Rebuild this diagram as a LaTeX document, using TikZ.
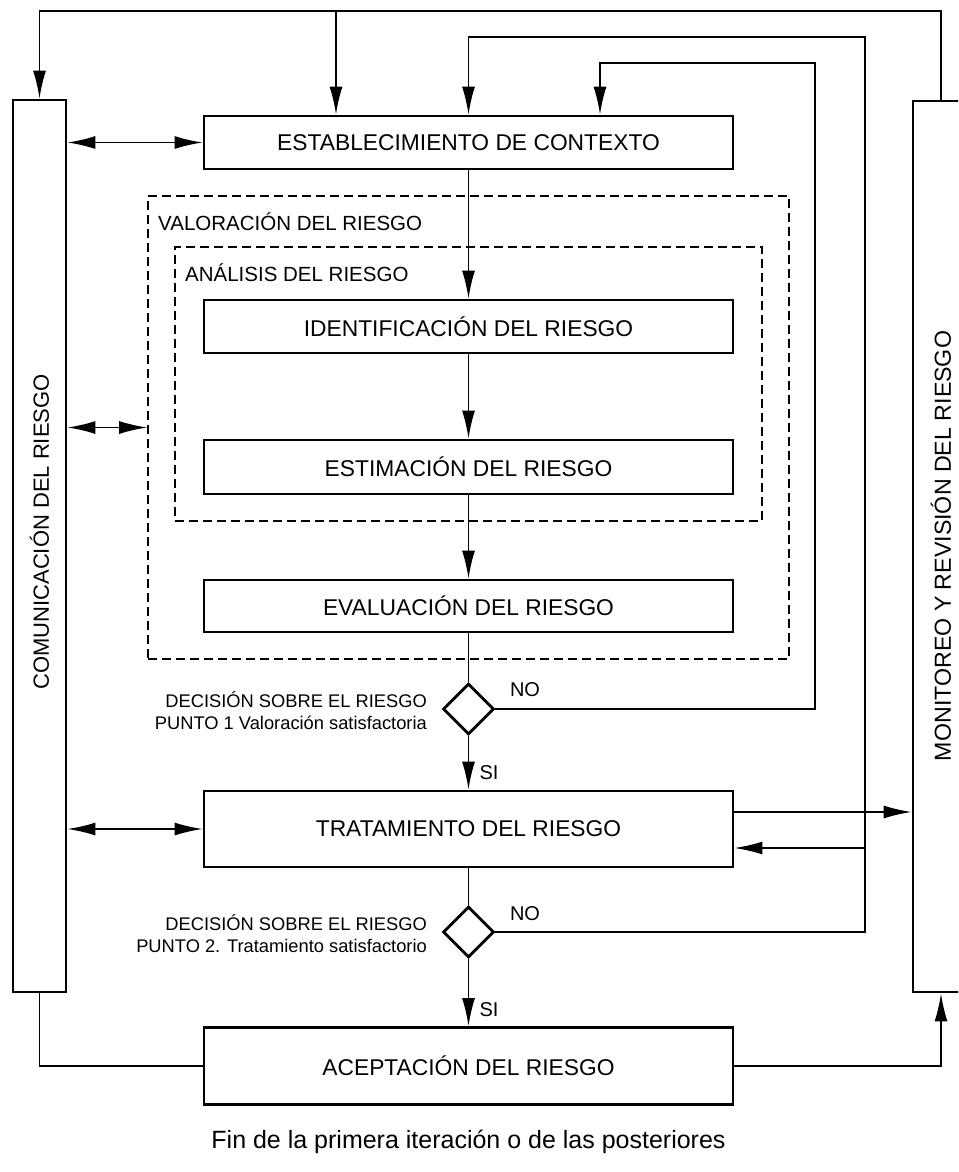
\documentclass[tikz,border=0pt]{standalone}
\usepackage{fontspec}
\setmainfont{Liberation Sans}
\usetikzlibrary{arrows.meta,shapes.geometric}
\begin{document}
\begin{tikzpicture}[x=1pt,y=-1pt,
  box/.style={draw, line width=2.8pt, minimum width=529pt, inner sep=0pt, font=\fontsize{22.8}{27}\selectfont},
  conn/.style={line width=1.8pt},
  arr/.style={conn, -{Latex[length=28pt,width=13pt]}},
  darr/.style={conn, {Latex[length=28pt,width=13pt]}-{Latex[length=28pt,width=13pt]}},
  dbox/.style={draw, line width=1.6pt, dash pattern=on 9pt off 5pt, inner sep=0pt},
  lab/.style={font=\fontsize{20.5}{24}\selectfont, inner sep=0pt},
  dec/.style={draw, diamond, aspect=1, line width=2.8pt, minimum width=51pt, minimum height=51pt, inner sep=0pt},
  side/.style={draw, line width=2.8pt, inner sep=0pt},
  sidetext/.style={rotate=90, font=\fontsize{22}{26}\selectfont, inner sep=0pt},
  dectext/.style={font=\fontsize{18.3}{22}\selectfont, align=right, anchor=east, inner sep=0pt},
  yn/.style={font=\fontsize{20}{24}\selectfont, inner sep=0pt},
]
\useasboundingbox (0,0) rectangle (958,1172);
\clip (0,0) rectangle (958,1172);

% side boxes
\node[side, minimum width=53pt, minimum height=892pt] (com) at (39.5,546) {};
\node[sidetext] (comt) at (39.5,532) {COMUNICACIÓN DEL RIESGO};
\node[side, minimum width=56pt, minimum height=891pt] (mon) at (941,546.5) {};
\node[sidetext, font=\fontsize{23.2}{28}\selectfont] (mont) at (941,546) {MONITOREO Y REVISIÓN DEL RIESGO};

% dashed groups
\node[dbox, minimum width=641pt, minimum height=463pt] (val) at (468.5,427.5) {};
\node[lab, anchor=west] (valt) at (158,222) {VALORACIÓN DEL RIESGO};
\node[dbox, minimum width=587pt, minimum height=274pt] (ana) at (468.5,384) {};
\node[lab, anchor=west] (anat) at (185,273) {ANÁLISIS DEL RIESGO};

% main boxes
\node[box, minimum height=53pt] (est) at (468.5,142.5) {ESTABLECIMIENTO DE CONTEXTO};
\node[box, minimum height=53pt] (ide) at (468.5,326.5) {IDENTIFICACIÓN DEL RIESGO};
\node[box, minimum height=54pt] (esm) at (468.5,467) {ESTIMACIÓN DEL RIESGO};
\node[box, minimum height=52pt] (eva) at (468.5,606) {EVALUACIÓN DEL RIESGO};
\node[box, minimum height=76pt] (tra) at (468.5,829) {TRATAMIENTO DEL RIESGO};
\node[box, minimum height=77pt] (ace) at (468.5,1066) {ACEPTACIÓN DEL RIESGO};

% decisions
\node[dec] (d1) at (468.5,709) {};
\node[dec] (d2) at (468.5,932) {};
\node[dectext] (d1t) at (427,711) {DECISIÓN SOBRE EL RIESGO\\PUNTO 1 Valoración satisfactoria};
\node[dectext] (d2t) at (427,934) {DECISIÓN SOBRE EL RIESGO\\PUNTO 2. Tratamiento satisfactorio};
\node[yn] (no1) at (525,690) {NO};
\node[yn] (si1) at (489,773) {SI};
\node[yn] (no2) at (525,914) {NO};
\node[yn] (si2) at (489,1010) {SI};

% caption
\node[font=\fontsize{25}{30}\selectfont, inner sep=0pt] (cap) at (468.5,1142) {Fin de la primera iteración o de las posteriores};

% helper coordinates
\coordinate (top) at (336,11);
\coordinate (l2) at (865,37);
\coordinate (l3) at (815,63);
\coordinate (c600) at (600,0);

% top loops
\draw[arr] (mon.north) |- (com.north |- top) -- (com.north);
\draw[arr] (top) -- (top |- est.north);
\draw[arr] (d2.east) -| (l2) -| (est.north);
\draw[arr] (d1.east) -| (l3) -| (est.north -| c600);

% main flow
\draw[arr] (est.south) -- (ide.north);
\draw[arr] (ide.south) -- (esm.north);
\draw[arr] (esm.south) -- (eva.north);
\draw[conn] (eva.south) -- (d1.north);
\draw[arr] (d1.south) -- (tra.north);
\draw[conn] (tra.south) -- (d2.north);
\draw[arr] (d2.south) -- (ace.north);

% communication arrows
\draw[darr] (com.east |- est.west) -- (est.west);
\draw[darr] (com.east |- val.west) -- (val.west);
\draw[darr] (com.east |- tra.west) -- (tra.west);

% monitoring arrows
\draw[arr] ([yshift=17pt]tra.east) -- ([yshift=17pt]tra.east -| mon.west);
\draw[arr] ([yshift=-19pt]tra.east -| l2) -- ([yshift=-19pt]tra.east);
\draw[conn] (com.south) |- (ace.west);
\draw[arr] (ace.east) -| (mon.south);
\end{tikzpicture}
\end{document}
